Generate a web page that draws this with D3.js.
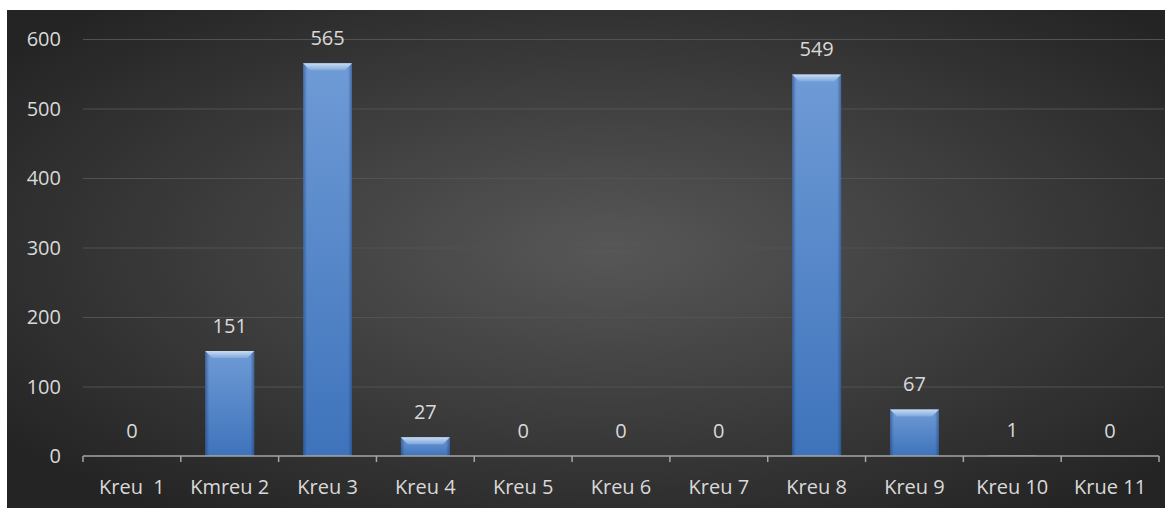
<!DOCTYPE html>
<html><head><meta charset="utf-8">
<script src="https://cdn.jsdelivr.net/npm/d3@7"></script>
<style>html,body{margin:0;padding:0;background:#fff;}svg{display:block;}</style>
</head><body>
<svg id="chart" width="1174" height="512"></svg>
<script>
const categories = ["Kreu  1","Kmreu 2","Kreu 3","Kreu 4","Kreu 5","Kreu 6","Kreu 7","Kreu 8","Kreu 9","Kreu 10","Krue 11"];
const values = [0,151,565,27,0,0,0,549,67,1,0];
const yTicks = [0,100,200,300,400,500,600];

const svg = d3.select("#chart");
const margin = {left:83, right:15, top:39, bottom:56};
const defs = svg.append("defs");
const FONT = "Open Sans, sans-serif", FS = "20px", TXT = "#d9d9d9";

const bg = defs.append("radialGradient").attr("id","bg").attr("cx","52%").attr("cy","48%").attr("r","65%");
bg.append("stop").attr("offset","0%").attr("stop-color","#575757");
bg.append("stop").attr("offset","100%").attr("stop-color","#242424");

const barG = defs.append("linearGradient").attr("id","barG").attr("x1","0").attr("x2","0").attr("y1","0").attr("y2","1");
barG.append("stop").attr("offset","0%").attr("stop-color","#6f9bd6");
barG.append("stop").attr("offset","100%").attr("stop-color","#3e73bb");
const barS = defs.append("linearGradient").attr("id","barS").attr("x1","0").attr("x2","1").attr("y1","0").attr("y2","0");
barS.append("stop").attr("offset","0%").attr("stop-color","#1f3f73").attr("stop-opacity",0.55);
barS.append("stop").attr("offset","8%").attr("stop-color","#1f3f73").attr("stop-opacity",0);
barS.append("stop").attr("offset","92%").attr("stop-color","#1f3f73").attr("stop-opacity",0);
barS.append("stop").attr("offset","100%").attr("stop-color","#1f3f73").attr("stop-opacity",0.55);
const bevG = defs.append("linearGradient").attr("id","bevG").attr("x1","0").attr("x2","0").attr("y1","0").attr("y2","1");
bevG.append("stop").attr("offset","0%").attr("stop-color","#c9dcf3");
bevG.append("stop").attr("offset","100%").attr("stop-color","#7fa8de");

svg.append("rect").attr("x",7).attr("y",10).attr("width",1158).attr("height",498).attr("fill","url(#bg)");

const x = d3.scaleBand().domain(categories).range([margin.left, 1159]).paddingInner(0.5).paddingOuter(0.25);
const y = d3.scaleLinear().domain([0,600]).range([456, margin.top]);

// gridlines
svg.append("g").selectAll("line").data(yTicks.filter(d=>d>0)).join("line")
  .attr("x1",margin.left).attr("x2",1164)
  .attr("y1",d=>y(d)+0.5).attr("y2",d=>y(d)+0.5)
  .attr("stroke","#525252").attr("stroke-width",1);

// y labels
svg.append("g").selectAll("text").data(yTicks).join("text")
  .attr("x",61).attr("y",d=>y(d)).attr("dy","0.35em")
  .attr("text-anchor","end").attr("fill",TXT)
  .style("font-family",FONT).style("font-size",FS)
  .text(d=>d);

// bars
const data = values.map((v,i)=>({v,c:categories[i]}));
const bars = svg.append("g").selectAll("g").data(data).join("g");
bars.append("rect")
  .attr("x",d=>x(d.c)).attr("y",d=>y(d.v)).attr("width",x.bandwidth()).attr("height",d=>y(0)-y(d.v))
  .attr("fill","url(#barG)");
bars.append("rect")
  .attr("x",d=>x(d.c)).attr("y",d=>y(d.v)).attr("width",x.bandwidth()).attr("height",d=>y(0)-y(d.v))
  .attr("fill","url(#barS)");
bars.filter(d=>y(0)-y(d.v)>8).append("path")
  .attr("d",d=>{
    const x0=x(d.c), x1=x0+x.bandwidth(), t=y(d.v), b=Math.min(7,(y(0)-y(d.v))/2);
    return `M${x0},${t}L${x1},${t}L${x1-b},${t+b}L${x0+b},${t+b}Z`;
  }).attr("fill","url(#bevG)");

// x axis
const xAxis = d3.axisBottom(x).tickSize(0).tickFormat("");
svg.append("g").attr("transform",`translate(0,${y(0)})`).call(xAxis)
  .call(g=>g.select(".domain").attr("stroke","#a6a6a6").attr("stroke-width",1.5).attr("d",`M${margin.left},0H1159`));
const edges = categories.map(c=>x(c)-x.step()*x.paddingInner()/2).concat([1159]);
svg.append("g").selectAll("line").data(edges).join("line")
  .attr("x1",d=>d).attr("x2",d=>d).attr("y1",y(0)).attr("y2",y(0)+6)
  .attr("stroke","#a6a6a6").attr("stroke-width",1.5);

svg.append("g").selectAll("text").data(categories).join("text")
  .attr("x",c=>x(c)+x.bandwidth()/2).attr("y",487).attr("dy","0.35em")
  .attr("text-anchor","middle").attr("fill",TXT)
  .style("font-family",FONT).style("font-size",FS)
  .style("white-space","pre")
  .text(c=>c);

// value labels
svg.append("g").selectAll("text").data(data).join("text")
  .attr("x",d=>x(d.c)+x.bandwidth()/2).attr("y",d=>y(d.v)-25).attr("dy","0.35em")
  .attr("text-anchor","middle").attr("fill",TXT)
  .style("font-family",FONT).style("font-size",FS)
  .text(d=>d.v);
</script>
</body></html>
